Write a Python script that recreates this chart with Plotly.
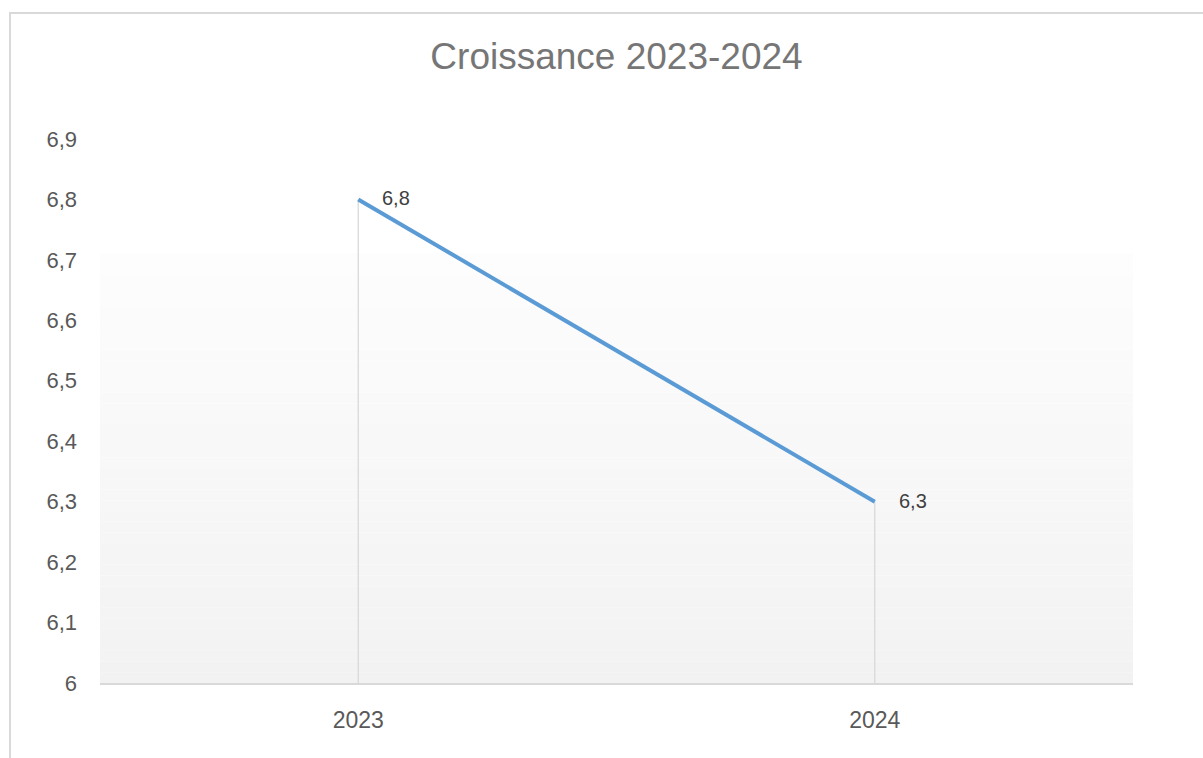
import plotly.graph_objects as go

# Data
years = ["2023", "2024"]
growth = [6.8, 6.3]
y_ticks = [6.0, 6.1, 6.2, 6.3, 6.4, 6.5, 6.6, 6.7, 6.8, 6.9]
y_tick_text = ["6", "6,1", "6,2", "6,3", "6,4", "6,5", "6,6", "6,7", "6,8", "6,9"]

W, H = 1203, 758
ML, MR, MT, MB = 100, 70, 139, 75
pw, ph = W - ML - MR, H - MT - MB
FONT = "Liberation Sans, Arial, sans-serif"

fig = go.Figure()

# Drop lines from each point to the axis
for yr, v in zip(years, growth):
    fig.add_trace(go.Scatter(x=[yr, yr], y=[6.0, v], mode="lines",
                             line=dict(color="#d9d9d9", width=1.3),
                             hoverinfo="skip", showlegend=False))

fig.add_trace(go.Scatter(
    x=years, y=growth, mode="lines",
    line=dict(color="#5b9bd5", width=4),
    showlegend=False))

# Value labels to the right of each point (category index as x)
annotations = []
for i, v in enumerate(growth):
    annotations.append(dict(x=i, y=v, xref="x", yref="y",
                            text=f"{v:.1f}".replace(".", ","),
                            showarrow=False, xanchor="left", yanchor="middle",
                            xshift=22, yshift=1,
                            font=dict(family=FONT, size=20, color="#404040")))

shapes = []
# Plot-area gradient (near white at top to light grey at the axis)
top_px, bot_px = 253, 683
n = 40
for i in range(n):
    y0p = top_px + (bot_px - top_px) * i / n
    y1p = top_px + (bot_px - top_px) * (i + 1) / n
    t = (i + 0.5) / n
    c = round(253 - (253 - 242) * t)
    shapes.append(dict(type="rect", xref="paper", yref="paper", layer="below",
                       x0=0, x1=1,
                       y0=(H - MB - y1p) / ph, y1=(H - MB - y0p) / ph,
                       fillcolor=f"rgb({c},{c},{c})", line=dict(width=0)))
# Outer chart frame
shapes.append(dict(type="rect", xref="paper", yref="paper",
                   x0=(10 - ML) / pw, x1=(W + 20 - ML) / pw,
                   y0=-(100) / ph, y1=(H - MB - 13) / ph,
                   line=dict(color="#d9d9d9", width=2), fillcolor="rgba(0,0,0,0)"))

fig.update_layout(
    width=W, height=H,
    margin=dict(l=ML, r=MR, t=MT, b=MB),
    paper_bgcolor="white", plot_bgcolor="white",
    separators=", ",
    font=dict(family=FONT, color="#595959", size=20),
    title=dict(text="Croissance 2023-2024", x=0.5, xref="paper", xanchor="center",
               y=1 - 56 / H, yanchor="middle",
               font=dict(family=FONT, size=37, color="#767676")),
    shapes=shapes,
    annotations=annotations,
    xaxis=dict(type="category", range=[-0.5, 1.5], showgrid=False,
               showline=True, linecolor="#d9d9d9", linewidth=1.5,
               ticks="", ticklabelstandoff=16, zeroline=False,
               tickfont=dict(family=FONT, size=23, color="#595959")),
    yaxis=dict(range=[6.0, 6.9], tickvals=y_ticks, ticktext=y_tick_text,
               showgrid=False, showline=False, zeroline=False,
               ticks="", ticklabelstandoff=22,
               tickfont=dict(family=FONT, size=22, color="#595959")),
)

fig.write_html("out.html")
